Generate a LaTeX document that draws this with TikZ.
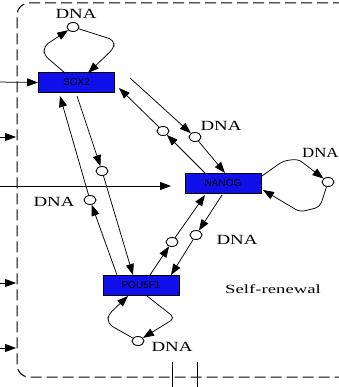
\documentclass[tikz,border=0pt]{standalone}
\usepackage{fontspec}
\setmainfont{Liberation Serif}
\newfontfamily\boxfont{Liberation Sans}
\usetikzlibrary{arrows.meta,shapes.geometric}
\definecolor{geneblue}{RGB}{16,16,235}
\tikzset{
  gene/.style={draw=black, line width=0.9pt, fill=geneblue, minimum width=76pt, minimum height=20pt, inner sep=0pt, font=\boxfont\fontsize{10}{10}\selectfont},
  site/.style={draw=black, fill=white, ellipse, minimum width=12pt, minimum height=9pt, inner sep=0pt, line width=0.9pt},
  link/.style={line width=0.75pt, -{Triangle[length=11pt,width=8pt]}},
  plain/.style={line width=0.75pt},
  loopline/.style={line width=0.75pt, rounded corners=5pt, -{Triangle[length=11pt,width=8pt]}},
  frame/.style={line width=1pt, dash pattern=on 11pt off 5pt, rounded corners=12pt},
  dnalabel/.style={font=\fontsize{14}{14}\selectfont, inner sep=0pt},
  caption/.style={font=\fontsize{12.5}{13}\selectfont, inner sep=0pt}
}
\begin{document}
\begin{tikzpicture}[x=1pt,y=-1pt]
\useasboundingbox (0,0) rectangle (338,387);
% frame
\draw[frame] (360,3) -- (17,3) -- (17,377) -- (360,377);
% genes
\node[gene] (sox) at (76.5,82.5) {SOX2};
\node[gene] (nanog) at (223,183.5) {NANOG};
\node[gene] (pou) at (141,285.5) {POU5F1};
% binding sites
\node[site] (cS) at (73,27) {};
\node[site] (cSN1) at (195,137) {};
\node[site] (cSN2) at (163,131) {};
\node[site] (cSP1) at (102,171) {};
\node[site] (cSP2) at (90,200) {};
\node[site] (cNP1) at (172,242) {};
\node[site] (cNP2) at (196,235) {};
\node[site] (cN) at (328,182) {};
\node[site] (cP) at (138,341) {};
% labels
\node[dnalabel] (dS) at (76,14) {\scalebox{1.35}[1]{DNA}};
\node[dnalabel] (dSN) at (221,126) {\scalebox{1.35}[1]{DNA}};
\node[dnalabel] (dSP) at (54,202) {\scalebox{1.35}[1]{DNA}};
\node[dnalabel] (dNP) at (237,240) {\scalebox{1.35}[1]{DNA}};
\node[dnalabel, anchor=west] (dN) at (302,153) {\scalebox{1.2}[1]{DNA}};
\node[dnalabel] (dP) at (172,347) {\scalebox{1.35}[1]{DNA}};
\node[caption] (sr) at (273,289) {\scalebox{1.5}[1]{Self-renewal}};
% endpoint coordinates
\coordinate (inS) at (-5,82);
\coordinate (inN) at (-5,186);
\coordinate (tipN) at (171,186);
\coordinate (in1) at (-5,137);
\coordinate (in1t) at (16,137);
\coordinate (in2) at (-5,283);
\coordinate (in2t) at (16,283);
\coordinate (in3) at (-5,348);
\coordinate (in3t) at (16,348);
\coordinate (o1a) at (172,362);
\coordinate (o1b) at (172,390);
\coordinate (o2a) at (197,362);
\coordinate (o2b) at (197,390);
\coordinate (snS) at (130,78);
\coordinate (snE) at (225,173);
\coordinate (nsS) at (205,173);
\coordinate (nsE) at (119,88);
\coordinate (spS) at (77,96);
\coordinate (spE) at (133,275);
\coordinate (psS) at (117,275);
\coordinate (psE) at (60,96);
\coordinate (pnS) at (150,275);
\coordinate (pnE) at (205,195);
\coordinate (npS) at (222,195);
\coordinate (npE) at (171,275);
% inputs
\draw[link] (inS) -- (sox.west);
\draw[link] (inN) -- (tipN);
\draw[link] (in1) -- (in1t);
\draw[link] (in2) -- (in2t);
\draw[link] (in3) -- (in3t);
\draw[plain] (o1a) -- (o1b);
\draw[plain] (o2a) -- (o2b);
% SOX2 <-> NANOG
\draw[link] (snS) -- (cSN1);
\draw[link] (cSN1) -- (snE);
\draw[link] (nsS) -- (cSN2);
\draw[link] (cSN2) -- (nsE);
% SOX2 <-> POU5F1
\draw[link] (spS) -- (cSP1);
\draw[link] (cSP1) -- (spE);
\draw[link] (psS) -- (cSP2);
\draw[link] (cSP2) -- (psE);
% NANOG <-> POU5F1
\draw[link] (pnS) -- (cNP1);
\draw[link] (cNP1) -- (pnE);
\draw[link] (npS) -- (cNP2);
\draw[link] (cNP2) -- (npE);
% self loops
\draw[loopline] (65,73) -- (44,55) -- (44,46) -- (cS);
\draw[loopline] (cS) -- (114,40) -- (114,48) -- (88,73);
\draw[loopline] (262,176) -- (283,161) -- (298,159) -- (cN);
\draw[loopline] (cN) -- (320,207) -- (300,212) -- (263,190);
\draw[loopline] (cP) -- (108,324) -- (108,315) -- (128,296);
\draw[loopline] (147,296) -- (175,318) -- (cP);
\end{tikzpicture}
\end{document}
